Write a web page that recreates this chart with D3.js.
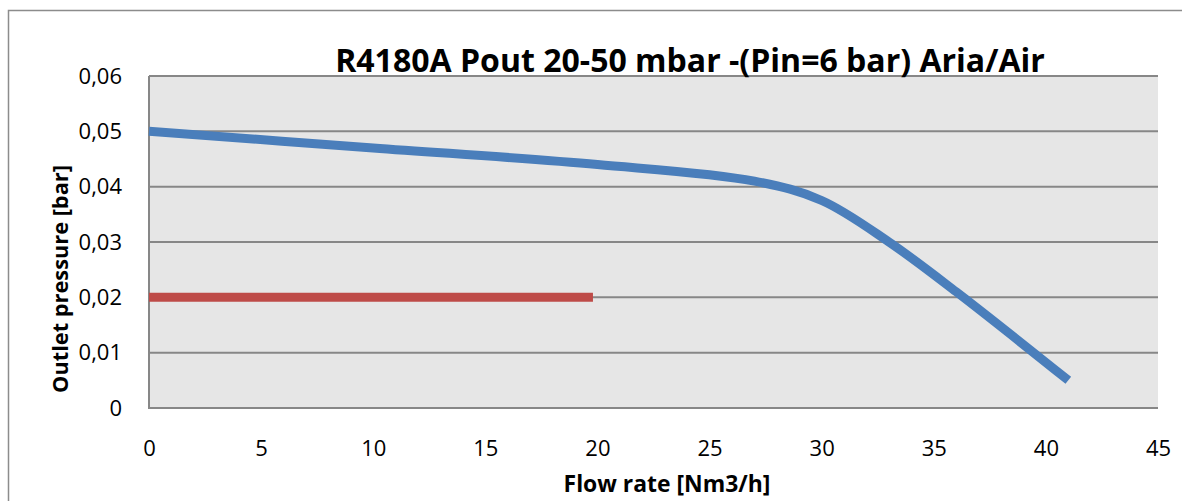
<!DOCTYPE html>
<html><head><meta charset="utf-8">
<script src="https://cdn.jsdelivr.net/npm/d3@7"></script>
<style>body{margin:0;background:#fff}svg{display:block}text{font-family:"Open Sans",sans-serif;fill:#000}</style>
</head><body>
<svg id="c" width="1182" height="501"></svg>
<script>
const titleText = "R4180A Pout 20-50 mbar -(Pin=6 bar) Aria/Air";
const xTitle = "Flow rate [Nm3/h]";
const yTitle = "Outlet pressure [bar]";
const xTicks = [0,5,10,15,20,25,30,35,40,45];
const yTicks = [0,0.01,0.02,0.03,0.04,0.05,0.06];
const flowX = [0,10,20,27,30,33,36,41];
const pressureY = [0.05,0.047,0.044,0.041,0.0375,0.030,0.021,0.005];
const setX = [0,19.8];
const setY = [0.02,0.02];

const svg = d3.select("#c");
const m = {l:149, t:76, r:1158, b:408};
const x = d3.scaleLinear().domain([0,45]).range([m.l,m.r]);
const y = d3.scaleLinear().domain([0,0.06]).range([m.b,m.t]);

svg.append("rect").attr("x",8.5).attr("y",10.5).attr("width",1200).attr("height",600)
  .attr("fill","#fff").attr("stroke","#8c8c8c").attr("stroke-width",1.5);
svg.append("rect").attr("x",m.l).attr("y",m.t).attr("width",m.r-m.l).attr("height",m.b-m.t).attr("fill","#e6e6e6");
svg.append("g").selectAll("line").data(yTicks).join("line")
  .attr("x1",m.l).attr("x2",m.r).attr("y1",d=>y(d)).attr("y2",d=>y(d))
  .attr("stroke","#878787").attr("stroke-width",2);
svg.append("line").attr("x1",m.l).attr("x2",m.l).attr("y1",m.t).attr("y2",m.b+1).attr("stroke","#878787").attr("stroke-width",2);

const fmt = d => d===0 ? "0" : d3.format(".2f")(d).replace(".",",");
const yAxis = d3.axisLeft(y).tickValues(yTicks).tickFormat(fmt).tickSize(0).tickPadding(27);
const gy = svg.append("g").attr("transform",`translate(${m.l},0)`).call(yAxis);
gy.select(".domain").remove();
gy.attr("font-size",null).attr("font-family",null);
gy.selectAll("text").attr("font-size","22px").attr("fill","#000");

const xAxis = d3.axisBottom(x).tickValues(xTicks).tickFormat(d=>d).tickSize(0).tickPadding(32);
const gx = svg.append("g").attr("transform",`translate(0,${m.b})`).call(xAxis);
gx.select(".domain").remove();
gx.attr("font-size",null).attr("font-family",null);
gx.selectAll("text").attr("font-size","22px").attr("fill","#000");

const line = d3.line().x(d=>x(d[0])).y(d=>y(d[1])).curve(d3.curveCatmullRom.alpha(0.5));
svg.append("path").datum(flowX.map((v,i)=>[v,pressureY[i]])).attr("d",line)
  .attr("fill","none").attr("stroke","#4a7ebb").attr("stroke-width",9).attr("stroke-linejoin","round");
const line2 = d3.line().x(d=>x(d[0])).y(d=>y(d[1]));
svg.append("path").datum(setX.map((v,i)=>[v,setY[i]])).attr("d",line2)
  .attr("fill","none").attr("stroke","#be4b48").attr("stroke-width",9);

function fit(t, w){ let fs=parseFloat(t.style("font-size")); const L=t.node().getComputedTextLength(); t.style("font-size",(fs*w/L)+"px"); }
const tt = svg.append("text").attr("x",690).attr("y",72).attr("text-anchor","middle")
  .style("font-weight","bold").style("font-size","26px").text(titleText);
fit(tt,710);
const xt = svg.append("text").attr("x",667).attr("y",492).attr("text-anchor","middle")
  .style("font-weight","bold").style("font-size","18px").text(xTitle);
fit(xt,207);
const yt = svg.append("text").attr("transform","translate(68,279) rotate(-90)").attr("text-anchor","middle")
  .style("font-weight","bold").style("font-size","18px").text(yTitle);
fit(yt,228);
</script>
</body></html>
